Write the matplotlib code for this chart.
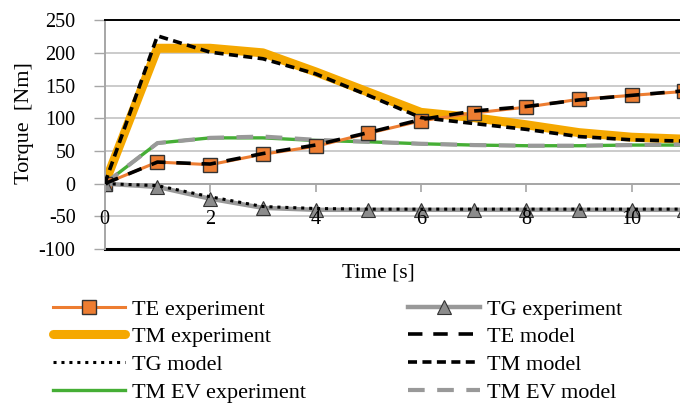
import numpy as np
import matplotlib
matplotlib.use("Agg")
import matplotlib.pyplot as plt

plt.rcParams["font.family"] = ["Liberation Serif", "DejaVu Serif"]
plt.rcParams["axes.unicode_minus"] = False

# data
t = [0, 1, 2, 3, 4, 5, 6, 7, 8, 9, 10, 11]
te_exp = [0, 33, 29, 45, 57, 77, 96, 108, 117, 129, 135, 141]
te_mod = [0, 33, 30, 46, 59, 78, 98, 111, 118, 128, 135, 142]
tm_exp = [0, 207, 207, 200, 171, 140, 109, 101, 90, 78, 71, 68]
tm_mod = [0, 226, 201, 191, 168, 135, 101, 92, 83, 72, 67, 65]
tg_exp = [0, -5, -23, -37, -40, -40, -40, -40, -40, -40, -40, -40]
tg_mod = [0, -3, -20, -35, -38, -39, -39, -39, -39, -39, -39, -39]
ev_exp = [0, 62, 70, 70, 66, 64, 61, 59, 58, 58, 59, 59]
ev_mod = [0, 62, 70, 72, 67, 64, 61, 59, 58, 58, 59, 60]

x_ticks = [0, 2, 4, 6, 8, 10]
y_ticks = [-100, -50, 0, 50, 100, 150, 200, 250]

fig = plt.figure(figsize=(6.8, 4.03), dpi=100)
ax = fig.add_axes([0.154, 0.382, 0.93, 0.568])

orange = "#ED7D31"
gold = "#F5A800"
green = "#45AE35"
grey = "#999999"

l1, = ax.plot(t, te_exp, color=orange, lw=2.2, marker="s", ms=10.5,
              mfc=orange, mec="#333333", mew=1.0, zorder=3, label="TE experiment")
l2, = ax.plot(t, tg_exp, color=grey, lw=3.2, marker="^", ms=10,
              mfc="#8c8c8c", mec="#333333", mew=0.8, zorder=3, label="TG experiment")
l3, = ax.plot(t, tm_exp, color=gold, lw=6.5, solid_capstyle="round",
              zorder=2, label="TM experiment")
l4, = ax.plot(t, te_mod, color="black", lw=2.6, dashes=(4, 3), zorder=4,
              label="TE model")
l5, = ax.plot(t, tg_mod, color="black", lw=2.2, linestyle=(0, (1, 1.6)),
              zorder=4, label="TG model")
l6, = ax.plot(t, tm_mod, color="black", lw=2.6, dashes=(2.5, 1.5), zorder=4,
              label="TM model")
l7, = ax.plot(t, ev_exp, color=green, lw=2.4, zorder=2, label="TM EV experiment")
l8, = ax.plot(t, ev_mod, color=grey, lw=3, dashes=(4, 3), zorder=2.5,
              label="TM EV model")

ax.set_xlim(0, 12)
ax.set_ylim(-100, 250)
ax.set_yticks(y_ticks)
ax.set_xticks(x_ticks)
ax.tick_params(axis="y", labelsize=14.5, length=8, color="#a6a6a6", width=1, pad=13)
ax.tick_params(axis="x", labelsize=14.5, length=6, color="#a6a6a6", width=1.2, pad=13)
ax.set_xticklabels([str(v) for v in x_ticks], fontsize=14.5, fontweight="bold")
ax.yaxis.grid(True, color="#bdbdbd", lw=1.1)
ax.yaxis.set_zorder(0.5)
ax.xaxis.set_zorder(6)

ax.spines["bottom"].set_position(("data", 0))
ax.spines["bottom"].set_color("#a6a6a6")
ax.spines["bottom"].set_linewidth(1.4)
ax.spines["bottom"].set_zorder(1)
ax.spines["left"].set_color("#a6a6a6")
ax.spines["left"].set_linewidth(1.4)
ax.spines["top"].set_color("black")
ax.spines["top"].set_linewidth(1.4)
ax.spines["right"].set_visible(False)
ax.axhline(-100, color="black", lw=2.2, zorder=1, clip_on=False)

fig.text(25 / 680, 1 - 123 / 403, "Torque  [Nm]", fontsize=16, rotation=90,
         ha="center", va="center")
fig.text(378 / 680, 1 - 273 / 403, "Time [s]", fontsize=15.5, ha="center", va="center")

leg_kw = dict(loc="upper left", frameon=False, fontsize=16, handlelength=3.25,
              handletextpad=0.3, labelspacing=0.32, borderaxespad=0, borderpad=0)
left = [l1, l3, l5, l7]
right = [l2, l4, l6, l8]
leg1 = fig.legend(handles=left, labels=[h.get_label() for h in left],
                  bbox_to_anchor=(53 / 680, 1 - 299 / 403), **leg_kw)
leg2 = fig.legend(handles=right, labels=[h.get_label() for h in right],
                  bbox_to_anchor=(408 / 680, 1 - 299 / 403), **leg_kw)

fig.savefig("out.png", dpi=100)
